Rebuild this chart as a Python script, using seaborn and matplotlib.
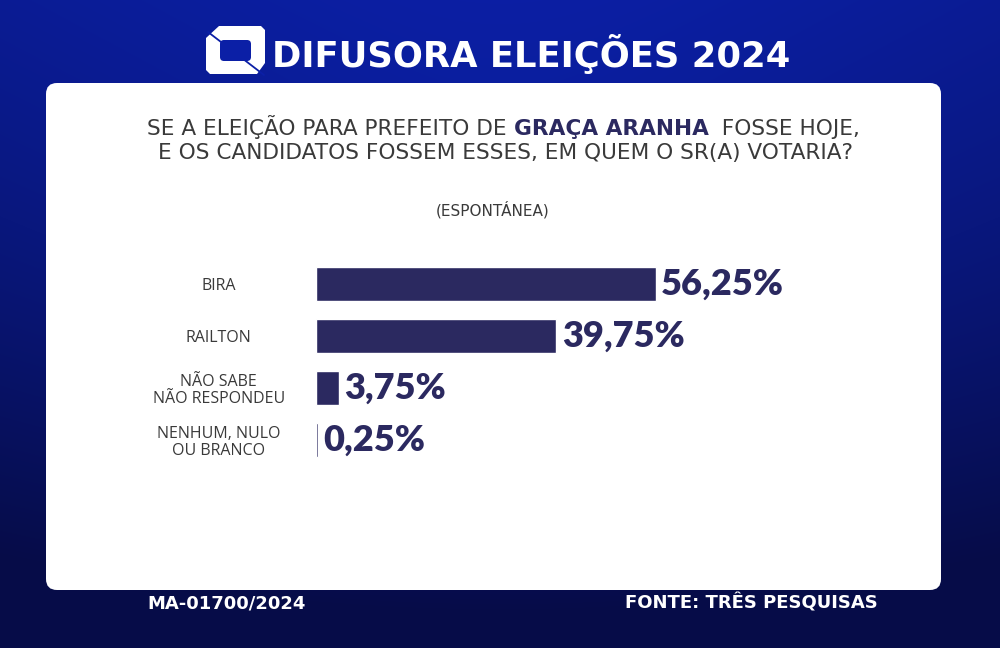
import numpy as np
import pandas as pd
import matplotlib
matplotlib.use("Agg")
import matplotlib.pyplot as plt
from matplotlib.patches import FancyBboxPatch, Polygon
import seaborn as sns

# ---- data ----
categories = ["BIRA", "RAILTON", "NÃO SABE\nNÃO RESPONDEU", "NENHUM, NULO\nOU BRANCO"]
values = [56.25, 39.75, 3.75, 0.25]
value_labels = ["56,25%", "39,75%", "3,75%", "0,25%"]

header = "DIFUSORA ELEIÇÕES 2024"
q_line1_a = "SE A ELEIÇÃO PARA PREFEITO DE "
q_line1_b = "GRAÇA ARANHA"
q_line1_c = "  FOSSE HOJE,"
q_line2 = "E OS CANDIDATOS FOSSEM ESSES, EM QUEM O SR(A) VOTARIA?"
subtitle = "(ESPONTÁNEA)"
footer_left = "MA-01700/2024"
footer_right = "FONTE: TRÊS PESQUISAS"

NAVY = "#2b2960"
GRAY = "#3a3a3a"
BGBLUE = "#0b1fa6"

sns.set_theme(style="white")
plt.rcParams["font.family"] = ["DejaVu Sans"]

fig = plt.figure(figsize=(10, 6.48), dpi=100)

# ---- background axes in pixel coordinates ----
bg = fig.add_axes([0, 0, 1, 1])
bg.set_xlim(0, 1000)
bg.set_ylim(648, 0)
bg.axis("off")
yy, xx = np.mgrid[0:648, 0:1000]
vert = yy / 648.0
rad = np.sqrt(((xx - 500) / 700.0) ** 2 + ((yy - 200) / 500.0) ** 2)
top = np.array([0x0c, 0x22, 0xb2]) / 255.0
bot = np.array([0x06, 0x0c, 0x48]) / 255.0
t = np.clip(0.75 * vert + 0.35 * rad, 0, 1)[..., None]
img = top * (1 - t) + bot * t
bg.imshow(img, extent=(0, 1000, 648, 0), aspect="auto", zorder=0)

panel = FancyBboxPatch((46, 83), 895, 507, boxstyle="round,pad=0,rounding_size=11",
                       facecolor="white", edgecolor="none", zorder=1)
bg.add_patch(panel)

# logo
logo_outer = Polygon([(206, 38), (219, 26), (261, 26), (265, 30), (265, 63),
                      (257, 74), (210, 74), (206, 70)], closed=True,
                     facecolor="white", edgecolor="none", zorder=2)
bg.add_patch(logo_outer)
logo_inner = FancyBboxPatch((220, 40), 31, 21, boxstyle="round,pad=0,rounding_size=4",
                            facecolor=BGBLUE, edgecolor="none", zorder=3)
bg.add_patch(logo_inner)
bg.plot([208, 264], [32, 75], color=BGBLUE, lw=1.3, zorder=4)

bg.text(531, 54, header, color="white", fontsize=25.5, fontweight="bold",
        ha="center", va="center", zorder=3)

# question text
FS = 15.6
t1 = bg.text(147, 127, q_line1_a, color=GRAY, fontsize=FS, ha="left", va="center", zorder=3)
t2 = bg.annotate(q_line1_b, xy=(1, 0), xycoords=t1, va="bottom", ha="left",
                 color=NAVY, fontsize=FS, fontweight="bold", zorder=3)
t3 = bg.annotate(q_line1_c, xy=(1, 0), xycoords=t2, va="bottom", ha="left",
                 color=GRAY, fontsize=FS, zorder=3)
bg.text(505, 153, q_line2, color=GRAY, fontsize=FS, ha="center", va="center", zorder=3)
bg.text(493, 210, subtitle, color=GRAY, fontsize=11, ha="center", va="center", zorder=3)

# footer
bg.text(147, 603, footer_left, color="white", fontsize=13, fontweight="bold",
        ha="left", va="center", zorder=3)
bg.text(878, 603, footer_right, color="white", fontsize=13, fontweight="bold",
        ha="right", va="center", zorder=3)

# ---- bar chart ----
ax = fig.add_axes([0.316, 1 - 466 / 648, 0.604, 208 / 648])
df = pd.DataFrame({"cat": categories, "val": values})
sns.barplot(data=df, x="val", y="cat", orient="h", color=NAVY, width=0.65,
            saturation=1, ax=ax)
ax.set_xlim(0, 100)
ax.set_ylim(3.5, -0.5)
ax.set_facecolor("none")
for s in ax.spines.values():
    s.set_visible(False)
ax.set_xticks([])
ax.set_xlabel("")
ax.set_ylabel("")
ax.tick_params(axis="y", length=0, pad=70)
for lbl in ax.get_yticklabels():
    lbl.set_horizontalalignment("center")
    lbl.set_fontsize(11.5)
    lbl.set_color(GRAY)
    lbl.set_linespacing(1.1)
    lbl.set_family(["Open Sans", "DejaVu Sans"])

ax.bar_label(ax.containers[0], labels=value_labels, padding=4, color=NAVY,
             fontsize=26, fontweight="heavy", family=["Lato", "DejaVu Sans"])

fig.savefig("out.png", dpi=100)
